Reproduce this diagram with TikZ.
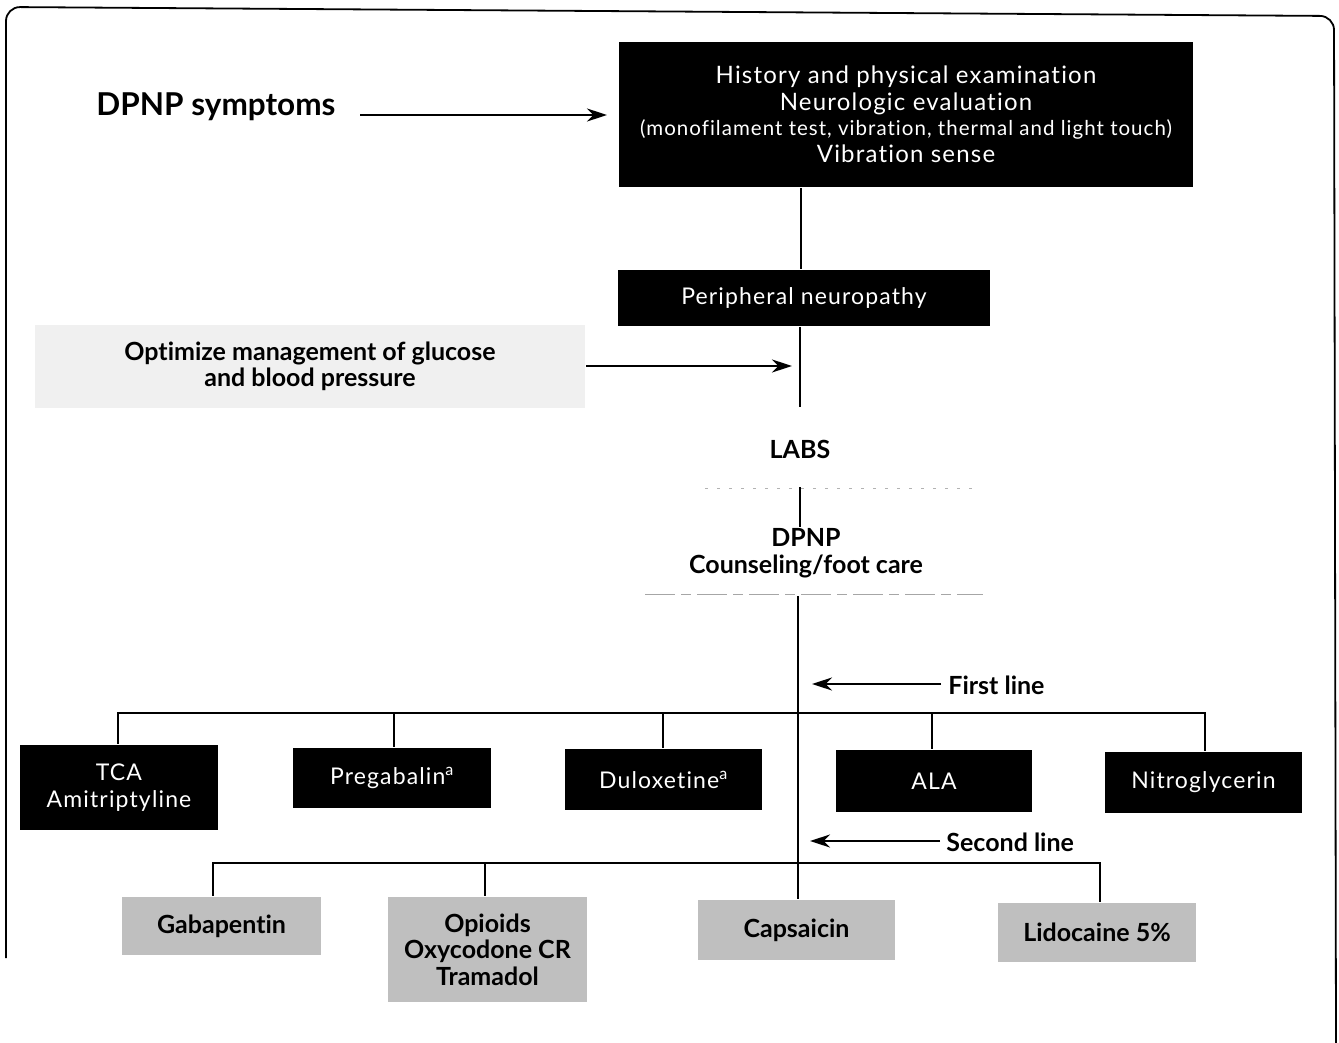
\documentclass[tikz,border=0pt]{standalone}
\usepackage{fontspec}
\setmainfont{Lato}[Ligatures=NoCommon]
\newfontfamily\spacedfont{Lato}[LetterSpace=5,Ligatures=NoCommon]
\usetikzlibrary{arrows.meta}
\begin{document}
\begin{tikzpicture}[x=1pt,y=-1pt,
  line width=2.8pt,
  blk/.style={fill=black,text=white,inner sep=0pt,align=center,font=\spacedfont\fontsize{23}{27}\selectfont},
  stip/.style={fill=gray!50,text=black,inner sep=0pt,align=center,font=\bfseries\fontsize{25}{26.5}\selectfont},
  lbl/.style={inner sep=0pt,align=center,font=\bfseries\fontsize{25}{26.5}\selectfont},
  arr/.style={-{Stealth[length=20pt,width=13pt]},line width=2.2pt}]
\useasboundingbox (0,0) rectangle (1339,1043);
% outer frame
\draw[line width=1.8pt,rounded corners=14] (6,958) -- (6,7) -- (1334,16) -- (1336,1043);

% top box
\node[blk,minimum width=574,minimum height=145,font=\spacedfont\fontsize{24}{27}\selectfont] (hist) at (906,114.5)
 {History and physical examination\\
  Neurologic evaluation\\[-2pt]
  {\fontsize{20.5}{24}\selectfont (monofilament test, vibration, thermal and light touch)}\\
  Vibration sense};
\node[lbl,anchor=west,font=\bfseries\fontsize{31.5}{34}\selectfont] (sym) at (95,107) {DPNP symptoms};
\coordinate (symA) at (360,115);
\draw[arr] (symA) -- (607,115);

% peripheral neuropathy
\node[blk,minimum width=372,minimum height=56] (pn) at (804,298) {Peripheral neuropathy};
\draw (hist.south -| 801,0) -- (pn.north -| 801,0);

% optimize
\node[stip,fill=gray!12,minimum width=550,minimum height=83] (opt) at (310,366.5)
 {Optimize management of glucose\\ and blood pressure};
\coordinate (trunkA) at (800,407);
\draw (pn.south -| trunkA) -- (trunkA);
\draw[arr] (opt.east |- 0,366) -- (792,366);

% labs
\node[lbl] (labs) at (800,449) {LABS};
\draw[gray!60,line width=0.8pt,dash pattern=on 3pt off 9pt] (705,488) -- (975,488);
\node[lbl] (couns) at (806,553) {DPNP\\ Counseling/foot care};
\draw (800,487) -- (couns.north -| 800,0);
\draw[gray!70,line width=1pt,dash pattern=on 30pt off 6pt on 10pt off 6pt] (645,594) -- (983,594);

% first line
\node[blk,minimum width=198,minimum height=85] (tca) at (119,787.5) {TCA\\ Amitriptyline};
\node[blk,minimum width=198,minimum height=60] (preg) at (392,778) {Pregabalin\textsuperscript{a}};
\node[blk,minimum width=197,minimum height=61] (dulo) at (663.5,779.5) {Duloxetine\textsuperscript{a}};
\node[blk,minimum width=196,minimum height=62] (ala) at (934,781) {ALA};
\node[blk,minimum width=197,minimum height=61] (nitro) at (1203.5,782.5) {Nitroglycerin};

\coordinate (busL) at (118,713);
\coordinate (busR) at (1205,713);
\draw (tca.north -| busL) -- (busL) -- (busR) -- (nitro.north -| busR);
\draw (394,713) -- (preg.north -| 394,0);
\draw (663,713) -- (dulo.north -| 663,0);
\draw (932,713) -- (ala.north -| 932,0);

% second line
\node[stip,minimum width=199,minimum height=58] (gaba) at (221.5,926) {Gabapentin};
\node[stip,minimum width=199,minimum height=105] (opi) at (487.5,949.5) {Opioids\\ Oxycodone CR\\ Tramadol};
\node[stip,minimum width=197,minimum height=60] (caps) at (796.5,930) {Capsaicin};
\node[stip,minimum width=198,minimum height=59] (lido) at (1097,932.5) {Lidocaine 5\%};

\coordinate (bus2L) at (213,863);
\coordinate (bus2R) at (1100,863);
\draw (gaba.north -| bus2L) -- (bus2L) -- (bus2R) -- (lido.north -| bus2R);
\draw (485,863) -- (opi.north -| 485,0);
% trunk
\draw (798,596) -- (caps.north -| 798,0);

% line labels
\node[lbl,anchor=west] (first) at (947,685) {First line};
\coordinate (fa) at (941,684);
\draw[arr] (fa) -- (812,684);
\node[lbl,anchor=west] (second) at (945,842) {Second line};
\coordinate (sa) at (940,841);
\draw[arr] (sa) -- (810,841);
\end{tikzpicture}
\end{document}
